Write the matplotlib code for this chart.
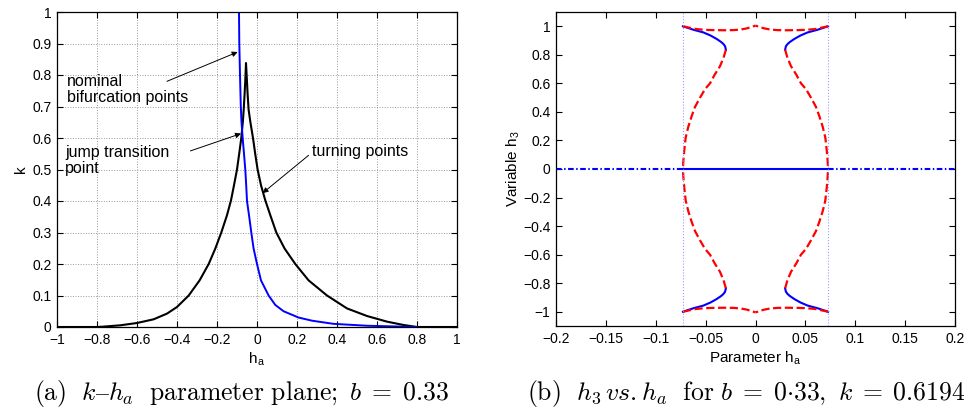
import matplotlib
matplotlib.use("Agg")
import matplotlib.pyplot as plt

plt.rcParams['font.family'] = ['Liberation Sans', 'DejaVu Sans']
plt.rcParams['mathtext.fontset'] = 'cm'

# ---------------------------------------------------------------------------
# (a) k - h_a parameter plane
# ---------------------------------------------------------------------------
turn_ha = [-1.0, -0.8, -0.767, -0.683, -0.60, -0.517, -0.45, -0.40, -0.3415,
           -0.287, -0.2415, -0.2085, -0.1785, -0.15, -0.13, -0.115, -0.10,
           -0.089, -0.0785, -0.071, -0.0665, -0.062, -0.058, -0.055,
           -0.051, -0.047, -0.042, -0.033, -0.020, -0.009, 0.003, 0.020,
           0.0415, 0.0665, 0.0965, 0.138, 0.1915, 0.258, 0.35, 0.45, 0.55,
           0.65, 0.733, 0.80, 1.0]
turn_k = [0.0, 0.0, 0.0012, 0.0054, 0.0127, 0.0244, 0.0425, 0.0635, 0.10,
          0.148, 0.20, 0.249, 0.30, 0.355, 0.402, 0.45, 0.50,
          0.55, 0.60, 0.65, 0.69, 0.74, 0.79, 0.838,
          0.79, 0.74, 0.69, 0.65, 0.60, 0.55, 0.50, 0.45,
          0.402, 0.355, 0.30, 0.249, 0.20, 0.148, 0.10, 0.059, 0.0349,
          0.017, 0.0063, 0.0, 0.0]

nominal_ha = [-0.090, -0.0885, -0.085, -0.081, -0.078, -0.0717, -0.065, -0.0585,
              -0.054, -0.050, -0.040, -0.0285, -0.017, 0.0, 0.020, 0.058,
              0.0915, 0.133, 0.208, 0.275, 0.383, 0.55, 0.80]
nominal_k = [1.0, 0.9, 0.8, 0.7, 0.655, 0.60, 0.55, 0.50,
             0.45, 0.40, 0.355, 0.30, 0.249, 0.20, 0.148, 0.10,
             0.07, 0.05, 0.03, 0.02, 0.01, 0.004, 0.0]

a_xticks = [-1, -0.8, -0.6, -0.4, -0.2, 0, 0.2, 0.4, 0.6, 0.8, 1]
a_xlabels = ['\u22121', '\u22120.8', '\u22120.6', '\u22120.4', '\u22120.2', '0',
             '0.2', '0.4', '0.6', '0.8', '1']
a_yticks = [0, 0.1, 0.2, 0.3, 0.4, 0.5, 0.6, 0.7, 0.8, 0.9, 1]
a_ylabels = ['0', '0.1', '0.2', '0.3', '0.4', '0.5', '0.6', '0.7', '0.8', '0.9', '1']

# ---------------------------------------------------------------------------
# (b) h3 vs h_a, upper-left quarter; the diagram is symmetric in both axes
# ---------------------------------------------------------------------------
stable_ha = [-0.0727, -0.0620, -0.0523, -0.0450, -0.0389, -0.0345, -0.0322,
             -0.0305, -0.0297]
stable_h3 = [1.0, 0.975, 0.957, 0.935, 0.911, 0.890, 0.876, 0.860, 0.836]

side_ha = [-0.0297, -0.0320, -0.0356, -0.0410, -0.0456, -0.0506, -0.0556,
           -0.0607, -0.0640, -0.0674, -0.0700, -0.0714, -0.0724, -0.0727]
side_h3 = [0.836, 0.78, 0.72, 0.66, 0.60, 0.56, 0.50, 0.434, 0.37, 0.295,
           0.22, 0.132, 0.05, 0.0]

top_ha = [-0.0727, -0.0650, -0.0590, -0.0500, -0.0423, -0.0300, -0.0223,
          -0.0150, -0.0089, -0.0040, 0.0]
top_h3 = [1.0, 0.988, 0.980, 0.975, 0.973, 0.972, 0.973, 0.977, 0.985,
          0.995, 1.005]

bif_ha = [-0.0727, 0.0730]

b_xticks = [-0.2, -0.15, -0.1, -0.05, 0, 0.05, 0.1, 0.15, 0.2]
b_xlabels = ['\u22120.2', '\u22120.15', '\u22120.1', '\u22120.05', '0', '0.05',
             '0.1', '0.15', '0.2']
b_yticks = [-1, -0.8, -0.6, -0.4, -0.2, 0, 0.2, 0.4, 0.6, 0.8, 1]
b_ylabels = ['\u22121', '\u22120.8', '\u22120.6', '\u22120.4', '\u22120.2', '0',
             '0.2', '0.4', '0.6', '0.8', '1']

W, H = 968, 412
fig = plt.figure(figsize=(W / 100, H / 100), dpi=100)


def style_axes(ax):
    for s in ax.spines.values():
        s.set_linewidth(0.9)
    ax.tick_params(direction='in', top=True, right=True, length=4,
                   width=0.8, labelsize=10, pad=4)


# ---- panel (a) ----
ax1 = fig.add_axes([57 / W, 85 / H, 400 / W, 315 / H])
ax1.plot(turn_ha, turn_k, color='black', lw=1.5)
ax1.plot(nominal_ha, nominal_k, color='#0000ff', lw=1.4)
ax1.set_xlim(-1, 1)
ax1.set_ylim(0, 1)
ax1.set_xticks(a_xticks, a_xlabels)
ax1.set_yticks(a_yticks, a_ylabels)
ax1.grid(True, linestyle=':', color='#999999', lw=0.7)
style_axes(ax1)
ax1.set_xlabel(r'h$_\mathregular{a}$', fontsize=11, labelpad=3)
ax1.set_ylabel('k', fontsize=11, labelpad=3)

arrow = dict(arrowstyle='-|>', color='black', lw=0.7, mutation_scale=8,
             shrinkA=0, shrinkB=0)
ax1.annotate('', xy=(-0.0967, 0.873), xytext=(-0.45, 0.78), arrowprops=arrow)
ax1.text(-0.95, 0.705, 'nominal\nbifurcation points', fontsize=11.5,
         ha='left', va='bottom', linespacing=1.1)
ax1.annotate('', xy=(-0.08, 0.614), xytext=(-0.333, 0.559), arrowprops=arrow)
ax1.text(-0.958, 0.478, 'jump transition\npoint', fontsize=11.5,
         ha='left', va='bottom', linespacing=1.1)
ax1.annotate('', xy=(0.028, 0.425), xytext=(0.258, 0.545), arrowprops=arrow)
ax1.text(0.275, 0.542, 'turning points', fontsize=11.5, ha='left',
         va='baseline')

# ---- panel (b) ----
ax2 = fig.add_axes([556 / W, 86 / H, 399 / W, 314 / H])
for sx in (1, -1):
    for sy in (1, -1):
        ax2.plot([sx * v for v in stable_ha], [sy * v for v in stable_h3],
                 color='#0000ff', lw=1.5)
        ax2.plot([sx * v for v in side_ha], [sy * v for v in side_h3],
                 color='#ff0000', lw=1.6, linestyle='--')
        ax2.plot([sx * v for v in top_ha], [sy * v for v in top_h3],
                 color='#ff0000', lw=1.6, linestyle='--')
ax2.plot([-0.2, bif_ha[0]], [0, 0], color='#0000ff', lw=1.5,
         linestyle=(0, (2.7, 1.2, 0.7, 1.2)))
ax2.plot([bif_ha[1], 0.2], [0, 0], color='#0000ff', lw=1.5,
         linestyle=(0, (2.7, 1.2, 0.7, 1.2)))
ax2.plot(bif_ha, [0, 0], color='#0000ff', lw=1.5)
for xv in bif_ha:
    ax2.axvline(xv, color='#9999ff', lw=0.8, linestyle=':')
ax2.set_xlim(-0.2, 0.2)
ax2.set_ylim(-1.1, 1.1)
ax2.set_xticks(b_xticks, b_xlabels)
ax2.set_yticks(b_yticks, b_ylabels)
style_axes(ax2)
ax2.set_xlabel(r'Parameter h$_\mathregular{a}$', fontsize=11, labelpad=3)
ax2.set_ylabel(r'Variable h$_\mathregular{3}$', fontsize=11, labelpad=1)

# ---- captions ----
fig.text(241 / W, 1 - 400 / H,
         r'$\mathrm{(a)}\ \ k\mathrm{–}h_a\ \ \mathrm{parameter\ plane;}\ b\;=\;0.33$',
         fontsize=18.5, ha='center', va='baseline')
fig.text(746 / W, 1 - 400 / H,
         r'$\mathrm{(b)}\ \ h_3\, vs.h_a\ \ \mathrm{for}\ b\;=\;0{\cdot}33,\ k\;=\;0.6194$',
         fontsize=18.5, ha='center', va='baseline')

fig.savefig('out.png', dpi=100)
